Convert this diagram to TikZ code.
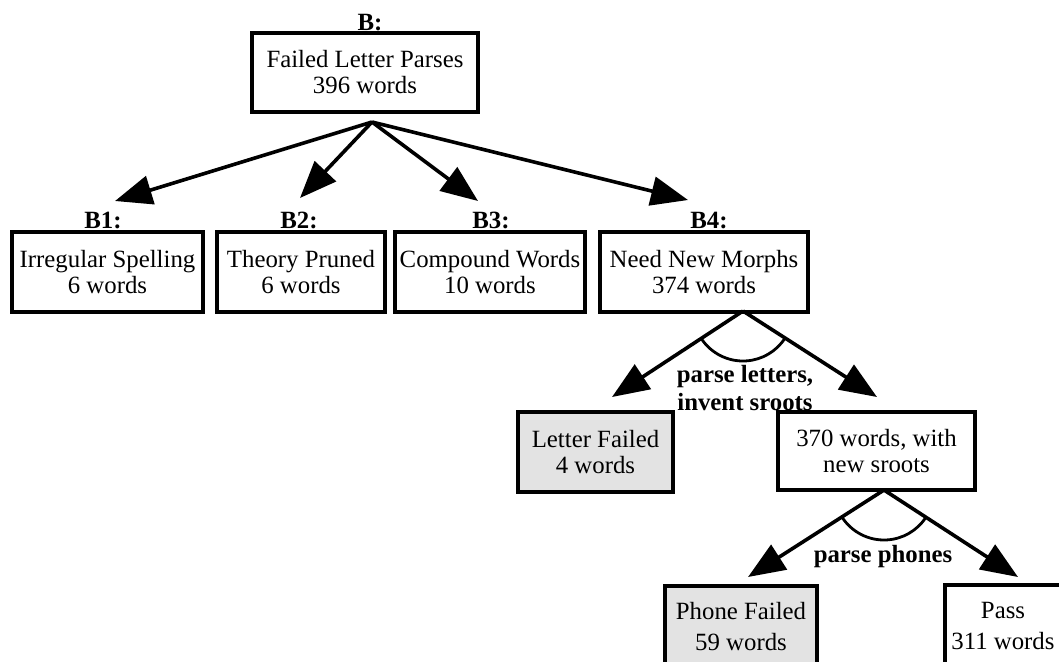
\documentclass[tikz,border=0pt]{standalone}
\usepackage{fontspec}
\setmainfont{Liberation Serif}
\usetikzlibrary{arrows.meta}
\begin{document}
\begin{tikzpicture}[x=0.5pt,y=-0.5pt,
  box/.style={draw, line width=1.8pt, align=center, inner sep=0pt,
    font=\fontsize{12.4pt}{13pt}\selectfont},
  failbox/.style={box, fill=gray!22},
  lowbox/.style={font=\fontsize{12.4pt}{15.5pt}\selectfont},
  boxtext/.style={align=center, inner sep=0pt, font=\fontsize{12.4pt}{15.5pt}\selectfont},
  tag/.style={font=\fontsize{12.4pt}{14pt}\selectfont\bfseries, inner sep=0pt},
  branch/.style={line width=1.8pt, -{Triangle[length=18.5pt,width=14.5pt]}},
  bow/.style={line width=1.4pt}]
\useasboundingbox (0,0) rectangle (1059,661);
\clip (0,0) rectangle (1059,661);

% root
\node[box, minimum width=113pt, minimum height=39.5pt] (root) at (365,72.5)
  {Failed Letter Parses\\396 words};
\node[tag, anchor=base] (rootlbl) at (370,30) {B:};
\coordinate (rootfork) at (372,122);

% first level
\node[box, minimum width=95.5pt, minimum height=40pt] (b1) at (107.5,272)
  {Irregular Spelling\\6 words};
\node[box, minimum width=84pt, minimum height=40pt] (b2) at (301,272)
  {Theory Pruned\\6 words};
\node[box, minimum width=95pt, minimum height=40pt] (b3) at (490,272)
  {Compound Words\\10 words};
\node[box, minimum width=104pt, minimum height=40pt] (b4) at (704,272)
  {Need New Morphs\\374 words};
\node[tag, anchor=base] (b1lbl) at (103,228) {B1:};
\node[tag, anchor=base] (b2lbl) at (299,228) {B2:};
\node[tag, anchor=base] (b3lbl) at (491,228) {B3:};
\node[tag, anchor=base] (b4lbl) at (709,228) {B4:};

\coordinate (t1) at (115,201);
\coordinate (t2) at (300,198);
\coordinate (t3) at (478,201);
\coordinate (t4) at (688,200);
\draw[branch] (rootfork) -- (t1);
\draw[branch] (rootfork) -- (t2);
\draw[branch] (rootfork) -- (t3);
\draw[branch] (rootfork) -- (t4);

% letter parsing
\coordinate (b4fork) at (743,311);
\coordinate (lf tip) at (612,397);
\coordinate (nw tip) at (877,397);
\draw[branch] (b4fork) -- (lf tip);
\draw[branch] (b4fork) -- (nw tip);
\draw[bow] ([shift={(146.4:50)}]b4fork) arc[start angle=146.4, end angle=33, radius=50];
\node[tag, align=center] (letterop) at (745,388) {parse letters,\\invent sroots};

\node[failbox, minimum width=77.5pt, minimum height=40pt] (lf) at (595.5,452)
  {Letter Failed\\4 words};
\node[box, minimum width=98.5pt, minimum height=39pt] (nw) at (876.5,451)
  {370 words, with\\new sroots};

% phone parsing
\coordinate (nwfork) at (884,490);
\coordinate (pf tip) at (748,577);
\coordinate (ps tip) at (1018,577);
\draw[branch] (nwfork) -- (pf tip);
\draw[branch] (nwfork) -- (ps tip);
\draw[bow] ([shift={(147.4:50)}]nwfork) arc[start angle=147.4, end angle=33, radius=50];
\node[tag, anchor=base] (phoneop) at (883,562) {parse phones};

\node[failbox, lowbox, minimum width=76pt, minimum height=40pt] (pf) at (741,626)
  {Phone Failed\\59 words};
\node[box, minimum width=61.5pt, minimum height=40pt] (ps) at (1006.5,625) {};
\node[boxtext] (pstext) at (1003,626) {Pass\\311 words};
\end{tikzpicture}
\end{document}
